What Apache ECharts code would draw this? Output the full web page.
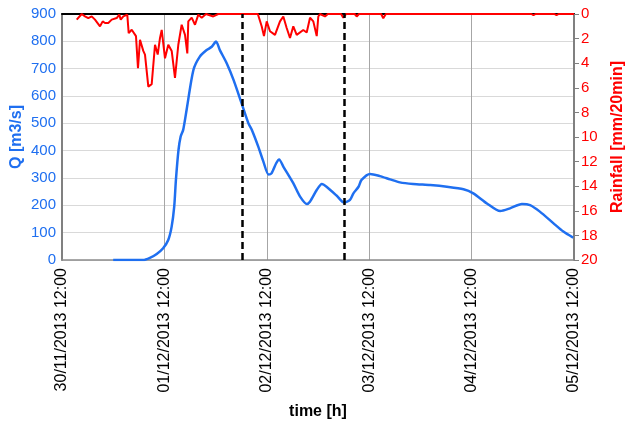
<!DOCTYPE html>
<html>
<head>
<meta charset="utf-8">
<script src="https://cdn.jsdelivr.net/npm/echarts@6/dist/echarts.min.js"></script>
<style>
html,body{margin:0;padding:0;background:#fff;}
#chart{width:628px;height:423px;}
</style>
</head>
<body>
<div id="chart"></div>
<script>
// x values: hours since 30/11/2013 12:00
const tickLabels = ['30/11/2013 12:00','01/12/2013 12:00','02/12/2013 12:00','03/12/2013 12:00','04/12/2013 12:00','05/12/2013 12:00'];
const flowHours = [12,19,20.6,22.2,23.7,24.9,25.7,26.3,26.7,27.3,27.8,28.4,29.2,30.8,32.3,33.9,35.1,36.1,37.0,38.6,40.2,42.1,43.7,44.5,46.0,47.2,48.4,49.1,50.2,50.9,51.9,54.2,55.8,57.4,58.1,59.7,60.9,62.0,64.4,66.1,67.5,68.3,69.5,70.2,72.2,74.5,76.9,79.2,82.3,86.3,90.2,94.1,96.4,99.6,102.7,105,107.8,109.7,112,115.2,117.5,119.8];
const flowValues = [0,0,8,22,43,73,122,195,293,402,451,476,549,695,744,768,780,799,768,720,659,573,500,476,415,360,313,317,354,368,341,281,232,205,213,256,278,268,235,210,220,244,268,293,315,307,295,284,278,274,268,259,244,207,179,189,205,201,177,134,104,82];
const rainHours = [3.45,4.62,5.39,6.16,6.96,7.73,8.13,8.91,9.54,10.08,10.85,11.65,12.02,12.82,13.43,13.76,14.37,14.77,15.30,15.63,16.34,16.71,17.34,17.81,18.28,19.05,19.45,20.23,21.02,21.80,22.43,22.97,23.37,24.14,24.91,25.71,26.48,27.26,28.05,28.83,29.37,29.60,30.40,31.17,31.95,32.74,33.75,35.46,36.6,45.9,46.80,47.34,47.98,48.75,49.92,51.09,51.87,52.66,53.44,54.21,55.01,56.55,57.35,58.13,58.90,59.70,60.07,60.47,61.64,62.3,65.4,65.93,66.6,68.6,69.07,69.6,74.8,75.3,75.9,110.0,110.5,111.0,115.4,115.9,116.4,120];
const rainValues = [0.46,0,0.19,0.33,0.19,0.46,0.33,1.0,0.6,0.73,0.73,0.46,0.6,0.33,0.05,0.46,0.19,0.33,0.05,1.55,1.28,1.14,1.8,4.4,2.1,3.0,3.3,5.9,5.7,2.5,3.3,1.95,1.3,3.6,2.5,3.0,5.2,2.5,0.87,1.7,3.2,0.6,0.3,0.87,0.05,0.3,0,0.2,0,0,1.0,1.8,0.6,1.4,1.7,0.6,0.2,1.14,1.95,1.0,1.7,1.3,1.5,0.3,0.6,1.8,0.2,0,0.2,0,0,0.3,0,0,0.2,0,0,0.35,0,0,0.1,0,0,0.1,0,0];
const eventHours = [42.2, 66.2];

const FONT = 'Liberation Sans';
const BLUE = '#1f6ff0';
const RED = '#ff0000';

const chart = echarts.init(document.getElementById('chart'), null, {renderer:'canvas'});
chart.setOption({
  animation: false,
  backgroundColor: '#ffffff',
  textStyle: {fontFamily: FONT},
  grid: {left: 62, right: 54, top: 14, bottom: 163, containLabel: false, outerBoundsMode: 'none'},
  xAxis: [{
    type: 'value', min: 0, max: 120, interval: 24,
    name: 'time [h]', nameLocation: 'middle', nameGap: 144,
    nameTextStyle: {fontFamily: FONT, fontSize: 16, fontWeight: 'bold', color: '#000'},
    axisLine: {show: true, onZero: false, lineStyle: {color: '#8c8c8c', width: 1.5}},
    axisTick: {show: false},
    axisLabel: {rotate: 90, fontFamily: FONT, fontSize: 16, color: '#000', margin: 8,
      formatter: v => tickLabels[Math.round(v / 24)]},
    splitLine: {show: true, lineStyle: {color: '#a6a6a6', width: 1}}
  }, {
    type: 'value', min: 0, max: 120, position: 'top',
    axisLine: {show: true, onZero: false, lineStyle: {color: '#000', width: 2}},
    axisTick: {show: false}, axisLabel: {show: false}, splitLine: {show: false}
  }],
  yAxis: [{
    type: 'value', min: 0, max: 900, interval: 100, position: 'left',
    name: 'Q [m3/s]', nameLocation: 'middle', nameGap: 37, nameRotate: 90, nameMoveOverlap: false,
    nameTextStyle: {fontFamily: FONT, fontSize: 16, fontWeight: 'bold', color: BLUE},
    axisLine: {show: true, onZero: false, lineStyle: {color: '#808080', width: 2}},
    axisTick: {show: false},
    axisLabel: {fontFamily: FONT, fontSize: 15, color: BLUE, margin: 6},
    splitLine: {show: true, lineStyle: {color: '#d9d9d9', width: 1}}
  }, {
    type: 'value', min: 0, max: 20, interval: 2, inverse: true, position: 'right',
    name: 'Rainfall [mm/20min]', nameLocation: 'middle', nameGap: 36, nameRotate: 90,
    nameTextStyle: {fontFamily: FONT, fontSize: 16, fontWeight: 'bold', color: RED},
    axisLine: {show: true, onZero: false, lineStyle: {color: '#808080', width: 2}},
    axisTick: {show: true, length: 5, lineStyle: {color: '#808080', width: 1}},
    axisLabel: {fontFamily: FONT, fontSize: 15, color: RED, margin: 7},
    splitLine: {show: false}
  }],
  series: [{
    type: 'line', name: 'Q', xAxisIndex: 0, yAxisIndex: 0,
    data: flowHours.map((h, i) => [h, flowValues[i]]),
    showSymbol: false, smooth: 0.25,
    lineStyle: {color: BLUE, width: 2.5},
    markLine: {
      silent: true, symbol: ['none', 'none'], label: {show: false},
      lineStyle: {color: '#000', width: 2.5, type: [7, 4]},
      data: eventHours.map(h => ({xAxis: h}))
    }
  }, {
    type: 'line', name: 'Rainfall', xAxisIndex: 0, yAxisIndex: 1,
    data: rainHours.map((h, i) => [h, rainValues[i]]),
    showSymbol: false,
    lineStyle: {color: RED, width: 2},
    z: 3
  }]
});
</script>
</body>
</html>
